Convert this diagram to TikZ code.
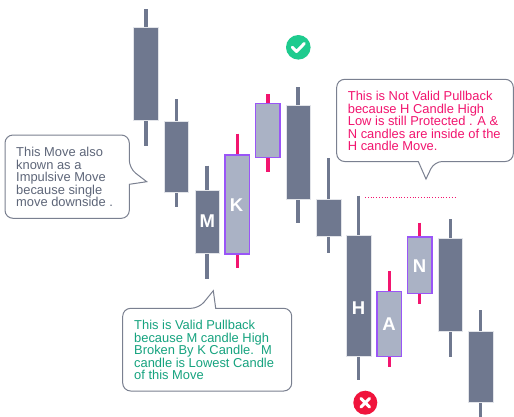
\documentclass[tikz,border=0pt]{standalone}
\usepackage{fontspec}
\setmainfont{Liberation Sans}
\definecolor{darkc}{HTML}{6F788F}
\definecolor{lightc}{HTML}{AAB2C5}
\definecolor{purplec}{HTML}{9A55F7}
\definecolor{pinkc}{HTML}{F2156F}
\definecolor{graytext}{HTML}{5E6679}
\definecolor{boxline}{HTML}{7A8090}
\definecolor{greentext}{HTML}{16A37F}
\definecolor{checkc}{HTML}{1ECB8E}
\definecolor{crossc}{HTML}{F0143C}
\tikzset{
  darkbody/.style={fill=darkc, draw=white!80!darkc, line width=0.5pt},
  lightbody/.style={fill=lightc, draw=purplec, line width=1.3pt},
  darkwick/.style={draw=darkc, line width=3.4pt},
  redwick/.style={draw=pinkc, line width=3.4pt},
  candlelabel/.style={text=white, font=\bfseries\fontsize{18.5}{18.5}\selectfont, inner sep=0pt},
  callout/.style={draw=boxline, fill=white, line width=1pt},
  callouttext/.style={anchor=north west, inner sep=0pt, align=left, font=\fontsize{12.9}{12.5}\selectfont},
}
% \candlebar{x}{wicktop}{bodytop}{bodybottom}{wickbottom}{wickstyle}{bodystyle}
\newcommand\candlebar[7]{%
  \draw[#6] (#1,#2) -- (#1,#5);
  \path[#7] (#1-12.2,#3) rectangle (#1+12.2,#4);
}
\begin{document}
\begin{tikzpicture}[x=1pt,y=-1pt]
\useasboundingbox[fill=white] (0,0) rectangle (514,416);

% candles
\candlebar{145.8}{9}{27.7}{120.7}{146}{darkwick}{darkbody}
\candlebar{176.3}{99.3}{121.3}{192.7}{207}{darkwick}{darkbody}
\candlebar{207}{165.7}{190}{253.7}{279}{darkwick}{darkbody}
\candlebar{237.3}{133.7}{155}{254}{268.3}{redwick}{lightbody}
\candlebar{267.8}{94}{103.7}{157.3}{172.3}{redwick}{lightbody}
\candlebar{298}{87}{105.3}{199}{223.3}{darkwick}{darkbody}
\candlebar{328.7}{158}{199}{236.7}{253.3}{darkwick}{darkbody}
\candlebar{358.7}{195.7}{235.7}{356.7}{380}{darkwick}{darkbody}
\candlebar{389.2}{271}{291.7}{356.7}{366.7}{redwick}{lightbody}
\candlebar{419.7}{222.7}{237}{293.7}{304}{redwick}{lightbody}
\candlebar{450.3}{219.3}{238}{331}{356.7}{darkwick}{darkbody}
\candlebar{480.7}{310}{331.7}{402.7}{418}{darkwick}{darkbody}

% candle labels
\node[candlelabel] (lM) at (207.3,220.7) {M};
\node[candlelabel] (lK) at (236.5,205) {K};
\node[candlelabel] (lH) at (358.5,307.7) {H};
\node[candlelabel] (lA) at (389,324) {A};
\node[candlelabel] (lN) at (419.5,266) {N};

% dotted level line
\coordinate (d1) at (365,197.3);
\coordinate (d2) at (456.7,197.3);
\draw[pinkc, dotted, line width=0.8pt] (d1) -- (d2);

% check mark
\node[circle, fill=checkc, minimum size=24.6pt, inner sep=0pt] (chk) at (298.3,47.3) {};
\draw[white, line width=3pt, line cap=round, line join=round]
  ([shift={(-6,0)}]chk.center) -- ([shift={(-1.7,4.2)}]chk.center) -- ([shift={(6,-3.8)}]chk.center);

% cross mark
\node[circle, fill=crossc, minimum size=24pt, inner sep=0pt] (crs) at (365.3,402.7) {};
\draw[white, line width=3pt, line cap=round]
  ([shift={(-4.3,-4.3)}]crs.center) -- ([shift={(4.3,4.3)}]crs.center)
  ([shift={(-4.3,4.3)}]crs.center) -- ([shift={(4.3,-4.3)}]crs.center);

% left callout
\draw[callout, rounded corners=8pt]
  (5,135) -- (129.3,135) -- (129.3,168.3) [sharp corners] -- (146.7,181.7) -- (129.3,184.3)
  [rounded corners=8pt] -- (129.3,218.3) -- (5,218.3) -- cycle;
\node[callouttext, text=graytext] (tleft) at (16,147.3)
  {This Move also\\known as a\\Impulsive Move\\because single\\move downside .};

% right callout
\draw[callout, rounded corners=8pt]
  (336.7,79.3) -- (513.3,79.3) -- (513.3,161.5) -- (434.3,161.5) [sharp corners] -- (426,179) -- (418.3,161.5)
  [rounded corners=8pt] -- (336.7,161.5) -- cycle;
\node[callouttext, text=pinkc] (tright) at (347.7,91)
  {This is Not Valid Pullback\\because H Candle High\\Low is still Protected . A \&\\N candles are inside of the\\H candle Move.};

% bottom callout
\draw[callout, rounded corners=8pt]
  (122.7,308.3) -- (199,308.3) [sharp corners] -- (213.3,290.7) -- (215.7,308.3)
  [rounded corners=8pt] -- (291.7,308.3) -- (291.7,391) -- (122.7,391) -- cycle;
\node[callouttext, text=greentext] (tbottom) at (134,320)
  {This is Valid Pullback\\because M candle High\\Broken By K Candle.\ \ M\\candle is Lowest Candle\\of this Move};
\end{tikzpicture}
\end{document}
